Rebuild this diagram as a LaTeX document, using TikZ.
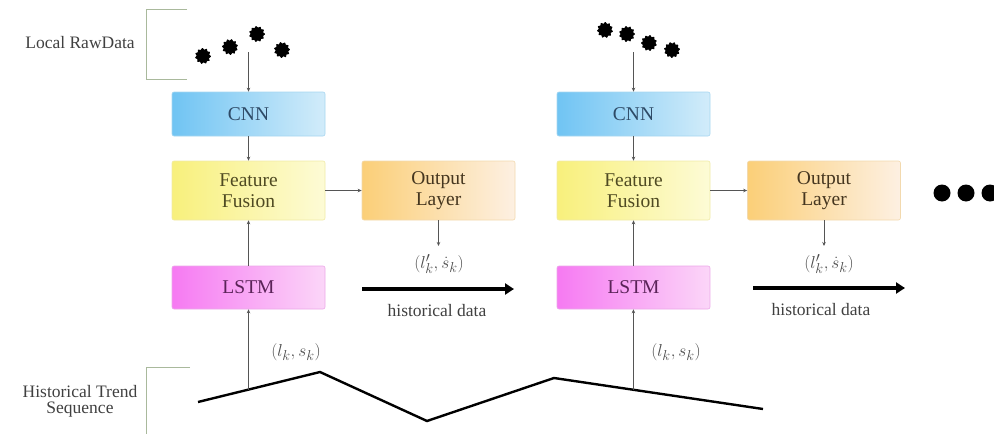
\documentclass[tikz,border=0pt]{standalone}
\usepackage{fontspec}
\setmainfont{Liberation Serif}
\usetikzlibrary{arrows.meta,shapes.geometric,calc}

\definecolor{cnnL}{HTML}{70C4F3}
\definecolor{cnnR}{HTML}{D2ECFA}
\definecolor{cnnB}{HTML}{A6D6F0}
\definecolor{cnnT}{HTML}{2E4A66}
\definecolor{ffL}{HTML}{F8F07C}
\definecolor{ffR}{HTML}{FDFBD6}
\definecolor{ffB}{HTML}{F0EAA6}
\definecolor{ffT}{HTML}{4F4A22}
\definecolor{olL}{HTML}{FBCF78}
\definecolor{olR}{HTML}{FDF0E2}
\definecolor{olB}{HTML}{F2D9AE}
\definecolor{olT}{HTML}{45361F}
\definecolor{lsL}{HTML}{F67AF2}
\definecolor{lsR}{HTML}{FBD6F8}
\definecolor{lsB}{HTML}{EBA8E8}
\definecolor{lsT}{HTML}{5A2358}
\definecolor{brk}{HTML}{A9B99C}
\definecolor{conn}{HTML}{555555}

\tikzset{
  block/.style={rounded corners=2pt, minimum width=153pt, inner sep=0pt,
    line width=0.6pt, font=\fontsize{19.5}{21}\selectfont, align=center},
  cnnbox/.style={block, minimum height=44pt, draw=cnnB, left color=cnnL, right color=cnnR, text=cnnT},
  ffbox/.style={block, minimum height=59pt, draw=ffB, left color=ffL, right color=ffR, text=ffT},
  olbox/.style={block, minimum height=59pt, draw=olB, left color=olL, right color=olR, text=olT},
  lsbox/.style={block, minimum height=43pt, draw=lsB, left color=lsL, right color=lsR, text=lsT},
  link/.style={draw=conn, line width=0.7pt, -{Stealth[length=4pt,width=3.5pt]}},
  bigarrow/.style={draw=black, line width=3.5pt, -{Triangle[length=9pt,width=11pt]}},
  splat/.style={star, star points=11, star point ratio=1.3, fill=black, draw=black,
    line width=1pt, line join=round, minimum size=15pt, inner sep=0pt},
  bigdot/.style={circle, fill=black, minimum size=17pt, inner sep=0pt},
  lbl/.style={font=\fontsize{17.5}{19}\selectfont, text=black!75, align=center},
  mlbl/.style={font=\fontsize{19}{21}\selectfont, text=black!70},
  bracket/.style={draw=brk, line width=0.6pt}
}

\begin{document}
\begin{tikzpicture}[x=1pt,y=-1pt]
\useasboundingbox (0,0) rectangle (994,434);

% side labels with their brackets
\node[lbl] (lraw) at (80,43) {Local RawData};
\node[lbl] (lhist) at (80,401) {Historical Trend\\[-3pt]Sequence};
\draw[bracket] (187,9) -- (146,9) -- (146,79) -- (187,79);
\draw[bracket] (190,367) -- (146,367) -- (146,434);

% raw data splats
\node[splat, rotate=5] (r1) at (203,56) {};
\node[splat, rotate=20] (r2) at (230,47) {};
\node[splat, rotate=40] (r3) at (257,34) {};
\node[splat, rotate=12] (r4) at (282,50) {};
\node[splat, rotate=30] (r5) at (605,30) {};
\node[splat, rotate=8] (r6) at (627,34) {};
\node[splat, rotate=25] (r7) at (649,43) {};
\node[splat, rotate=15] (r8) at (672,50) {};

% first stage
\node[cnnbox] (cnn1) at (248.5,114) {CNN};
\node[ffbox] (ff1) at (248.5,190.5) {Feature\\Fusion};
\node[olbox] (ol1) at (438.5,190.5) {Output\\Layer};
\node[lsbox] (ls1) at (248.5,287.5) {LSTM};

% second stage
\node[cnnbox] (cnn2) at (633.5,114) {CNN};
\node[ffbox] (ff2) at (633.5,190.5) {Feature\\Fusion};
\node[olbox] (ol2) at (824,190.5) {Output\\Layer};
\node[lsbox] (ls2) at (633.5,287.5) {LSTM};

% continuation dots
\node[bigdot] (d1) at (942,193) {};
\node[bigdot] (d2) at (966,193) {};
\node[bigdot] (d3) at (990,193) {};

% historical trend polyline
\coordinate (t0) at (198,402);
\coordinate (t1) at (320,372);
\coordinate (t2) at (427,421);
\coordinate (t3) at (554,378);
\coordinate (t4) at (763,409);
\draw[line width=2.4pt, line join=miter] (t0) -- (t1) -- (t2) -- (t3) -- (t4);
\coordinate (p1) at ($(t0)!0.414!(t1)$);
\coordinate (p2) at ($(t3)!0.380!(t4)$);

% connectors, first stage
\coordinate (b1) at (248.5,52);
\draw[link] (b1) -- (cnn1.north);
\draw[link] (cnn1.south) -- (ff1.north);
\draw[link] (ff1.east) -- (ol1.west);
\draw[link] (ls1.north) -- (ff1.south);
\draw[link] (p1) -- (p1 |- ls1.south);
\coordinate (o1) at (438.5,246);
\draw[link] (ol1.south) -- (o1);
\node[mlbl] (y1) at (439,264) {$(l_k^{\prime},\dot{s}_k)$};
\node[mlbl] (x1) at (296,352) {$(l_k,s_k)$};
\coordinate (h1a) at (362,289);
\coordinate (h1b) at (514,289);
\draw[bigarrow] (h1a) -- (h1b);
\node[lbl] (hd1) at (437,311) {historical data};

% connectors, second stage
\coordinate (b2) at (633.5,52);
\draw[link] (b2) -- (cnn2.north);
\draw[link] (cnn2.south) -- (ff2.north);
\draw[link] (ff2.east) -- (ol2.west);
\draw[link] (ls2.north) -- (ff2.south);
\draw[link] (p2) -- (p2 |- ls2.south);
\coordinate (o2) at (824,246);
\draw[link] (ol2.south) -- (o2);
\node[mlbl] (y2) at (829,264) {$(l_k^{\prime},\dot{s}_k)$};
\node[mlbl] (x2) at (676,352) {$(l_k,s_k)$};
\coordinate (h2a) at (753,288);
\coordinate (h2b) at (905,288);
\draw[bigarrow] (h2a) -- (h2b);
\node[lbl] (hd2) at (821,310) {historical data};
\end{tikzpicture}
\end{document}
